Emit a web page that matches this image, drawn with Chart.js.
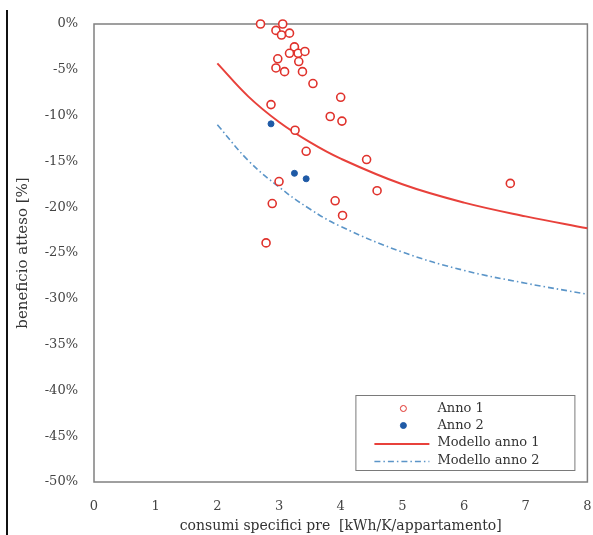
<!DOCTYPE html>
<html>
<head>
<meta charset="utf-8">
<script src="https://cdn.jsdelivr.net/npm/chart.js@4/dist/chart.umd.min.js"></script>
<style>
  html, body { margin: 0; background: #fff; overflow: hidden; }
  #wrap { position: relative; width: 593px; height: 535px; }
  #wrap canvas { display: block; }
  #edge { position: absolute; left: 6px; top: 10px; width: 2px; height: 525px; background: #111; }
</style>
</head>
<body>
<div id="wrap">
  <canvas id="chart"></canvas>
  <div id="edge"></div>
</div>
<script>
// ---------- Data ----------
const anno1X = [2.70, 3.06, 2.95, 3.04, 3.17, 3.25, 3.17, 3.31, 3.42, 2.98, 3.32, 2.95, 3.09, 3.38,
                3.55, 4.00, 2.87, 3.83, 4.02, 3.26, 3.44, 4.42, 3.00, 4.59, 6.75, 2.89, 3.91, 4.03, 2.79];
const anno1Y = [0.0, 0.0, -0.7, -1.2, -1.0, -2.5, -3.2, -3.2, -3.0, -3.8, -4.1, -4.8, -5.2, -5.2,
                -6.5, -8.0, -8.8, -10.1, -10.6, -11.6, -13.9, -14.8, -17.2, -18.2, -17.4, -19.6, -19.3, -20.9, -23.9];

const anno2X = [2.87, 3.25, 3.44];
const anno2Y = [-10.9, -16.3, -16.9];

const modelX = [2, 2.5, 3, 3.5, 4, 5, 6, 7, 8];
const modello1Y = [-4.3, -7.9, -10.7, -12.9, -14.7, -17.5, -19.5, -21.0, -22.3];
const modello2Y = [-11.0, -14.9, -17.8, -20.2, -22.1, -24.9, -26.9, -28.3, -29.5];

const xTicks = [0, 1, 2, 3, 4, 5, 6, 7, 8];
const yTicks = [0, -5, -10, -15, -20, -25, -30, -35, -40, -45, -50];

const labels = ["Anno 1", "Anno 2", "Modello anno 1", "Modello anno 2"];

// ---------- Helpers ----------
function toPoints(xs, ys) {
  return xs.map((x, i) => ({ x: x, y: ys[i] }));
}

const SERIF = "'DejaVu Serif', 'Liberation Serif', serif";

// frame around the plot area
const frame = {
  id: "frame",
  beforeDatasetsDraw(chart) {
    const a = chart.chartArea;
    const ctx = chart.ctx;
    ctx.save();
    ctx.strokeStyle = "#808080";
    ctx.lineWidth = 1.5;
    ctx.strokeRect(a.left, a.top, a.right - a.left, a.bottom - a.top);
    ctx.restore();
  }
};

// legend box inside the plot, bottom right
const insideLegend = {
  id: "insideLegend",
  afterDraw(chart) {
    const a = chart.chartArea;
    const ctx = chart.ctx;
    const w = 219, h = 75;
    const left = a.right - 13 - w;
    const top = a.bottom - 12 - h;
    ctx.save();
    ctx.fillStyle = "#fff";
    ctx.fillRect(left, top, w, h);
    ctx.strokeStyle = "#7a7a7a";
    ctx.lineWidth = 1;
    ctx.strokeRect(left + 0.5, top + 0.5, w, h);

    const rows = [13.5, 30.5, 48, 65.5];
    chart.data.datasets.forEach((ds, i) => {
      const y = top + rows[i];
      if (ds.showLine) {
        ctx.strokeStyle = ds.borderColor;
        ctx.lineWidth = ds.borderWidth;
        ctx.setLineDash(ds.borderDash || []);
        ctx.beginPath();
        ctx.moveTo(left + 19, y + 1);
        ctx.lineTo(left + 74, y + 1);
        ctx.stroke();
        ctx.setLineDash([]);
      } else {
        ctx.beginPath();
        ctx.arc(left + 48, y, 3, 0, Math.PI * 2);
        ctx.fillStyle = ds.backgroundColor;
        ctx.fill();
        ctx.strokeStyle = ds.borderColor;
        ctx.lineWidth = 1;
        ctx.stroke();
      }
      ctx.fillStyle = "#333";
      ctx.font = "13px " + SERIF;
      ctx.textBaseline = "middle";
      ctx.textAlign = "left";
      ctx.fillText(ds.label, left + 82, y);
    });
    ctx.restore();
  }
};

// ---------- Chart ----------
function initChart() {
  const ctx = document.getElementById("chart").getContext("2d");
  new Chart(ctx, {
    type: "scatter",
    data: {
      datasets: [
        {
          label: labels[0],
          data: toPoints(anno1X, anno1Y),
          pointRadius: 4,
          pointBorderWidth: 1.6,
          borderColor: "#e0322c",
          backgroundColor: "#ffffff",
          clip: false
        },
        {
          label: labels[1],
          data: toPoints(anno2X, anno2Y),
          pointRadius: 3,
          pointBorderWidth: 1,
          borderColor: "#1f5aa6",
          backgroundColor: "#1f5aa6",
          clip: false
        },
        {
          label: labels[2],
          data: toPoints(modelX, modello1Y),
          showLine: true,
          pointRadius: 0,
          borderColor: "#e8413b",
          borderWidth: 2,
          tension: 0.4,
          clip: false
        },
        {
          label: labels[3],
          data: toPoints(modelX, modello2Y),
          showLine: true,
          pointRadius: 0,
          borderColor: "#5b95c8",
          borderWidth: 1.6,
          borderDash: [6, 3, 1.5, 3],
          tension: 0.4,
          clip: false
        }
      ]
    },
    options: {
      responsive: true,
      maintainAspectRatio: false,
      animation: false,
      layout: { padding: { top: 24, right: -3, left: 0, bottom: 0 } },
      plugins: {
        legend: { display: false },
        tooltip: { enabled: false }
      },
      scales: {
        x: {
          type: "linear",
          min: xTicks[0],
          max: xTicks[xTicks.length - 1],
          afterBuildTicks: (s) => { s.ticks = xTicks.map(v => ({ value: v })); },
          afterFit: (s) => { s.height = 53; s.paddingLeft = 0; s.paddingRight = 0; },
          grid: { display: false, drawTicks: false },
          border: { display: false },
          ticks: {
            padding: 17,
            color: "#444",
            font: { family: SERIF, size: 13 }
          },
          title: {
            display: true,
            text: "consumi specifici pre  [kWh/K/appartamento]",
            color: "#333",
            font: { family: SERIF, size: 14 },
            padding: { top: 0, bottom: 0 }
          }
        },
        y: {
          type: "linear",
          min: yTicks[yTicks.length - 1],
          max: yTicks[0],
          afterBuildTicks: (s) => { s.ticks = yTicks.map(v => ({ value: v })); },
          afterFit: (s) => { s.width = 94; s.paddingTop = 0; s.paddingBottom = 0; },
          grid: { display: false, drawTicks: false },
          border: { display: false },
          ticks: {
            padding: 16,
            color: "#444",
            font: { family: SERIF, size: 13 },
            callback: (v) => v + "%"
          },
          title: {
            display: true,
            text: "beneficio atteso [%]",
            color: "#333",
            font: { family: SERIF, size: 15 },
            padding: { top: 14, bottom: 0 }
          }
        }
      }
    },
    plugins: [frame, insideLegend]
  });
}

window.addEventListener("load", initChart);
</script>
</body>
</html>
